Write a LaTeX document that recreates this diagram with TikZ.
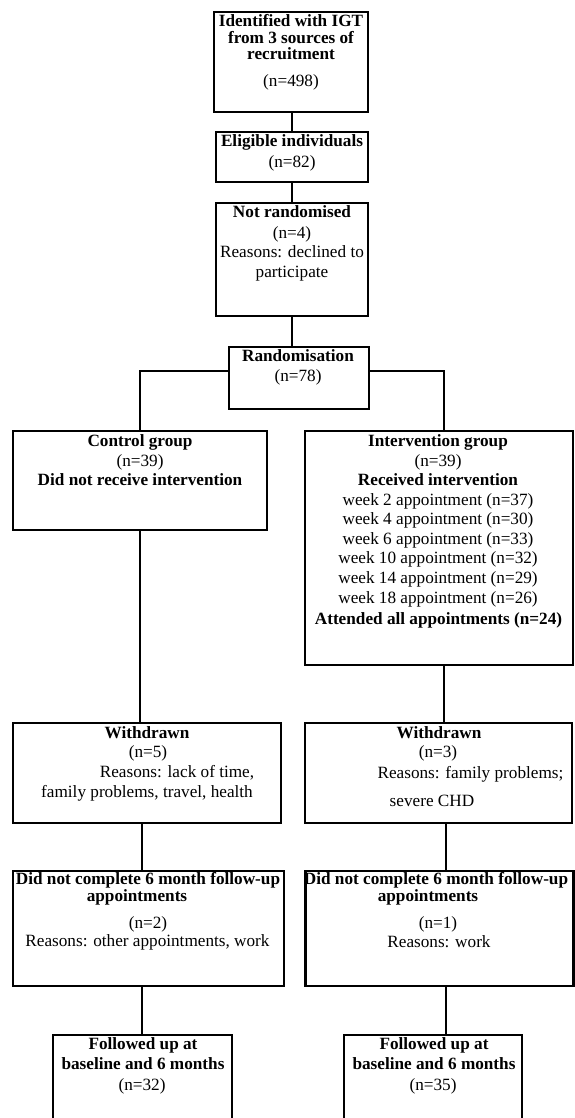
\documentclass[tikz,border=0pt]{standalone}
\usepackage{fontspec}
\setmainfont{Liberation Serif}
\begin{document}
\begin{tikzpicture}[x=1pt,y=-1pt,
  box/.style={draw=black,line width=1.4pt,fill=none},
  thickbox/.style={draw=black,line width=2.2pt,fill=none},
  conn/.style={draw=black,line width=1.9pt},
  txt/.style={inner sep=0pt,anchor=base,font=\fontsize{17.2}{20}\selectfont},
  btxt/.style={txt,font=\fontsize{17.2}{20}\selectfont\bfseries}]
\useasboundingbox[fill=white] (0,0) rectangle (574,1118);
% boxes
\node[thickbox,minimum width=154pt,minimum height=100pt,inner sep=0pt] (b1) at (291,62) {};
\node[box,minimum width=152pt,minimum height=50pt,inner sep=0pt] (b2) at (292,157) {};
\node[box,minimum width=152pt,minimum height=113pt,inner sep=0pt] (b3) at (292,259.5) {};
\node[box,minimum width=140pt,minimum height=62pt,inner sep=0pt] (b4) at (299,378) {};
\node[box,minimum width=254pt,minimum height=99pt,inner sep=0pt] (b5) at (140,480.5) {};
\node[box,minimum width=268pt,minimum height=234pt,inner sep=0pt] (b6) at (439,548) {};
\node[box,minimum width=268pt,minimum height=100pt,inner sep=0pt] (b7) at (147,773) {};
\node[box,minimum width=267pt,minimum height=100pt,inner sep=0pt] (b8) at (438.5,773) {};
\node[thickbox,minimum width=271pt,minimum height=115pt,inner sep=0pt] (b9) at (148.5,928.5) {};
\node[thickbox,minimum width=268pt,minimum height=115pt,inner sep=0pt] (b10) at (439.5,928.5) {};
\node[box,minimum width=179pt,minimum height=100pt,inner sep=0pt] (b11) at (142.5,1085) {};
\node[box,minimum width=178pt,minimum height=100pt,inner sep=0pt] (b12) at (433,1085) {};
% connectors
\coordinate (cx) at (292,0);
\draw[conn] (b1.south -| cx) -- (b2.north -| cx);
\draw[conn] (b2.south -| cx) -- (b3.north -| cx);
\draw[conn] (b3.south -| cx) -- (b4.north -| cx);
\coordinate (l1) at (140,371);
\coordinate (r1) at (444,371);
\draw[conn] (b4.west |- l1) -- (l1) -- (b5.north -| l1);
\draw[conn] (b4.east |- r1) -- (r1) -- (b6.north -| r1);
\draw[conn] (b5.south -| l1) -- (b7.north -| l1);
\draw[conn] (b6.south -| r1) -- (b8.north -| r1);
\coordinate (l2) at (142,0);
\coordinate (r2) at (446,0);
\draw[conn] (b7.south -| l2) -- (b9.north -| l2);
\draw[conn] (b8.south -| r2) -- (b10.north -| r2);
\draw[conn] (b9.south -| l2) -- (b11.north -| l2);
\draw[conn] (b10.south -| r2) -- (b12.north -| r2);
% texts box 1
\node[btxt] (t1a) at (291,27) {Identified with IGT};
\node[btxt] (t1b) at (291,43.5) {from 3 sources of};
\node[btxt] (t1c) at (291,60) {recruitment};
\node[txt] (t1d) at (291,87) {(n=498)};
% box 2
\node[btxt] (t2a) at (292,146.7) {Eligible individuals};
\node[txt] (t2b) at (292,167.3) {(n=82)};
% box 3
\node[btxt] (t3a) at (292,217.7) {Not randomised};
\node[txt] (t3b) at (292,238.3) {(n=4)};
\node[txt] (t3c) at (292,257.7) {Reasons: declined to};
\node[txt] (t3d) at (292,277.7) {participate};
% box 4
\node[btxt] (t4a) at (298,361) {Randomisation};
\node[txt] (t4b) at (298,381.7) {(n=78)};
% box 5
\node[btxt] (t5a) at (140,446.7) {Control group};
\node[txt] (t5b) at (140,466.7) {(n=39)};
\node[btxt] (t5c) at (140,485.5) {Did not receive intervention};
% box 6
\node[btxt] (t6a) at (438,446.3) {Intervention group};
\node[txt] (t6b) at (438,466) {(n=39)};
\node[btxt] (t6c) at (438,485.5) {Received intervention};
\node[txt] (t6d) at (438,505) {week 2 appointment (n=37)};
\node[txt] (t6e) at (438,524.5) {week 4 appointment (n=30)};
\node[txt] (t6f) at (438,544) {week 6 appointment (n=33)};
\node[txt] (t6g) at (438,563.5) {week 10 appointment (n=32)};
\node[txt] (t6h) at (438,583) {week 14 appointment (n=29)};
\node[txt] (t6i) at (438,603) {week 18 appointment (n=26)};
\node[btxt] (t6j) at (438.5,624.3) {Attended all appointments (n=24)};
% box 7
\node[btxt] (t7a) at (147,738.3) {Withdrawn};
\node[txt] (t7b) at (148,757.3) {(n=5)};
\node[txt] (t7c) at (177,777.3) {Reasons: lack of time,};
\node[txt] (t7d) at (147,797.3) {family problems, travel, health};
% box 8
\node[btxt] (t8a) at (439,738.3) {Withdrawn};
\node[txt] (t8b) at (438,757.3) {(n=3)};
\node[txt] (t8c) at (470.5,778) {Reasons: family problems;};
\node[txt] (t8d) at (432,806) {severe CHD};
% box 9
\node[btxt] (t9a) at (148,884.5) {Did not complete 6 month follow-up};
\node[btxt] (t9b) at (137,901) {appointments};
\node[txt] (t9c) at (148,928) {(n=2)};
\node[txt] (t9d) at (147.5,946.7) {Reasons: other appointments, work};
% box 10
\node[btxt] (t10a) at (436,884.5) {Did not complete 6 month follow-up};
\node[btxt] (t10b) at (428,901) {appointments};
\node[txt] (t10c) at (438,928) {(n=1)};
\node[txt] (t10d) at (439,947.7) {Reasons: work};
% box 11
\node[btxt] (t11a) at (143,1049) {Followed up at};
\node[btxt] (t11b) at (143,1069) {baseline and 6 months};
\node[txt] (t11c) at (142,1090) {(n=32)};
% box 12
\node[btxt] (t12a) at (434,1049) {Followed up at};
\node[btxt] (t12b) at (434,1069) {baseline and 6 months};
\node[txt] (t12c) at (433,1090) {(n=35)};
\end{tikzpicture}
\end{document}
